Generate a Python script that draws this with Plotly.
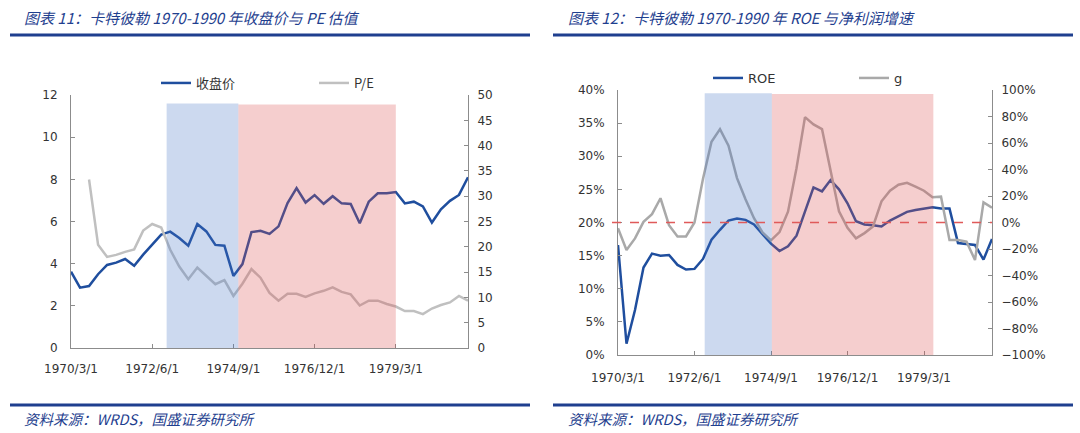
import plotly.graph_objects as go

# ---------------- data ----------------
quarters = [f"{1970 + i // 4}/{[3, 6, 9, 12][i % 4]}/1" for i in range(45)]
tick_labels = ["1970/3/1", "1972/6/1", "1974/9/1", "1976/12/1", "1979/3/1"]

close_price = [3.62, 2.86, 2.94, 3.5, 3.94, 4.05, 4.22, 3.9, 4.43, 4.93, 5.38, 5.52, 5.22, 4.85, 5.88,
               5.53, 4.89, 4.85, 3.42, 3.98, 5.5, 5.56, 5.41, 5.77, 6.87, 7.58, 6.9, 7.25, 6.84, 7.2,
               6.86, 6.83, 5.92, 6.94, 7.34, 7.34, 7.4, 6.86, 6.94, 6.72, 5.95, 6.58, 6.98, 7.26, 8.1]
pe_ratio = [None, None, 33.3, 20.4, 18.0, 18.4, 19.0, 19.5, 23.2, 24.5, 23.8, 19.4, 16.1, 13.6, 15.9,
            14.3, 12.6, 13.4, 10.3, 12.7, 15.6, 13.9, 10.9, 9.35, 10.7, 10.7, 10.1, 10.8, 11.3, 12.0,
            11.1, 10.6, 8.4, 9.35, 9.35, 8.7, 8.2, 7.3, 7.3, 6.7, 7.8, 8.5, 9.0, 10.3, 9.35]

roe = [16.6, 1.7, 6.8, 13.2, 15.3, 15.0, 15.1, 13.6, 12.9, 13.0, 14.5, 17.4, 18.9, 20.3, 20.6,
       20.4, 19.7, 18.3, 16.8, 15.7, 16.4, 18.0, 21.6, 25.3, 24.7, 26.4, 25.0, 22.9, 20.2, 19.7,
       19.6, 19.4, 20.3, 21.0, 21.6, 21.9, 22.1, 22.3, 22.1, 22.1, 16.9, 16.8, 16.6, 14.4, 17.5]
g_growth = [-4.4, -20.8, -12.0, 0.5, 6.3, 18.3, -2.0, -10.5, -10.5, 0.0, 33.0, 61.0, 70.5, 58.0, 33.5,
            17.5, 3.2, -7.5, -13.5, -7.2, 8.2, 41.0, 79.5, 74.0, 70.5, 38.5, 8.5, -4.0, -12.0, -8.0,
            -3.0, 16.0, 24.0, 28.5, 30.0, 27.0, 24.0, 19.0, 19.5, -13.2, -13.2, -14.5, -28.3, 15.2, 11.2]

# shaded periods (category index positions)
left_blue = (10.6, 18.55)
left_pink = (18.55, 36.0)
right_blue = (10.2, 18.1)
right_pink = (18.1, 37.1)

BLUE = "#1F4E9E"
GREY = "#C0C0C0"
TITLE_BLUE = "#1F3F8F"
FONT = "DejaVu Sans, Noto Sans CJK SC, sans-serif"
CJK = "Noto Sans CJK SC, DejaVu Sans, sans-serif"

W, H = 1080, 433


def px_x(p):
    return p / W


def px_y(p):
    return 1 - p / H


fig = go.Figure()

fig.add_trace(go.Scatter(x=quarters, y=close_price, name="收盘价", mode="lines",
                         line=dict(color=BLUE, width=2.5), xaxis="x", yaxis="y", legend="legend"))
fig.add_trace(go.Scatter(x=quarters, y=pe_ratio, name="P/E", mode="lines",
                         line=dict(color=GREY, width=2.5), xaxis="x", yaxis="y2", legend="legend"))
fig.add_trace(go.Scatter(x=quarters, y=roe, name="ROE", mode="lines",
                         line=dict(color=BLUE, width=2.5), xaxis="x2", yaxis="y3", legend="legend2"))
fig.add_trace(go.Scatter(x=quarters, y=g_growth, name="g", mode="lines",
                         line=dict(color="#A9A9A9", width=2.5), xaxis="x2", yaxis="y4", legend="legend2"))

axis_common = dict(showgrid=False, zeroline=False, showline=True, linecolor="#8C8C8C", linewidth=1,
                   ticks="inside", ticklen=4, tickcolor="#8C8C8C",
                   tickfont=dict(family=FONT, size=12, color="#333333"))

xcommon = dict(axis_common, type="category", tickmode="array", tickvals=tick_labels,
               ticktext=tick_labels, range=[0, 44], tickangle=0)

fig.update_layout(
    width=W, height=H,
    margin=dict(l=0, r=0, t=0, b=0, autoexpand=False),
    paper_bgcolor="white", plot_bgcolor="rgba(0,0,0,0)",
    xaxis=dict(xcommon, domain=[px_x(71), px_x(468)], anchor="y", ticklabelstandoff=10),
    yaxis=dict(axis_common, domain=[px_y(348), px_y(95)], range=[0, 12], dtick=2, anchor="x",
               ticklabelstandoff=10),
    yaxis2=dict(axis_common, overlaying="y", side="right", range=[0, 50], dtick=5, anchor="x",
                ticklabelstandoff=6),
    xaxis2=dict(xcommon, domain=[px_x(618), px_x(992)], anchor="y3", ticklabelstandoff=12),
    yaxis3=dict(axis_common, domain=[px_y(355), px_y(90)], range=[0, 40], dtick=5,
                ticksuffix="%", anchor="x2", ticklabelstandoff=10),
    yaxis4=dict(axis_common, overlaying="y3", side="right", range=[-100, 100], dtick=20,
                ticksuffix="%", anchor="x2", ticklabelstandoff=6),
    legend=dict(orientation="h", x=px_x(156), y=px_y(83), xanchor="left", yanchor="middle",
                entrywidth=113, entrywidthmode="pixels", bgcolor="rgba(0,0,0,0)",
                font=dict(family=CJK, size=13, color="#333333")),
    legend2=dict(orientation="h", x=px_x(708), y=px_y(78), xanchor="left", yanchor="middle",
                 entrywidth=101, entrywidthmode="pixels", bgcolor="rgba(0,0,0,0)",
                 font=dict(family=FONT, size=13, color="#333333")),
)

shapes = []
# shaded periods drawn above the lines (semi-transparent)
shapes.append(dict(type="rect", xref="x", yref="y", x0=left_blue[0], x1=left_blue[1], y0=0, y1=11.6,
                   fillcolor="rgba(68,114,196,0.27)", line=dict(width=0), layer="above"))
shapes.append(dict(type="rect", xref="x", yref="y", x0=left_pink[0], x1=left_pink[1], y0=0, y1=11.55,
                   fillcolor="rgba(220,80,80,0.28)", line=dict(width=0), layer="above"))
shapes.append(dict(type="rect", xref="x2", yref="y3", x0=right_blue[0], x1=right_blue[1], y0=0, y1=39.5,
                   fillcolor="rgba(68,114,196,0.27)", line=dict(width=0), layer="above"))
shapes.append(dict(type="rect", xref="x2", yref="y3", x0=right_pink[0], x1=right_pink[1], y0=0, y1=39.4,
                   fillcolor="rgba(220,80,80,0.28)", line=dict(width=0), layer="above"))
# red dashed zero line on the growth axis
shapes.append(dict(type="line", xref="paper", yref="y4", x0=px_x(612), x1=px_x(992), y0=0, y1=0,
                   line=dict(color="#E05A5A", width=1.5, dash="dash"), layer="above"))
# title / footer rules
for (a, b) in [(10, 530), (553, 1073)]:
    shapes.append(dict(type="line", xref="paper", yref="paper", x0=px_x(a), x1=px_x(b),
                       y0=px_y(35), y1=px_y(35), line=dict(color=TITLE_BLUE, width=3)))
    shapes.append(dict(type="line", xref="paper", yref="paper", x0=px_x(a), x1=px_x(b),
                       y0=px_y(405), y1=px_y(405), line=dict(color=TITLE_BLUE, width=3)))
fig.update_layout(shapes=shapes)

ann = []
ann.append(dict(text="<i>图表 11：卡特彼勒 1970-1990 年收盘价与 PE 估值</i>", x=px_x(22), y=px_y(18),
                xref="paper", yref="paper", xanchor="left", yanchor="middle", showarrow=False,
                font=dict(family=CJK, size=15, color=TITLE_BLUE)))
ann.append(dict(text="<i>图表 12：卡特彼勒 1970-1990 年 ROE 与净利润增速</i>", x=px_x(566), y=px_y(18),
                xref="paper", yref="paper", xanchor="left", yanchor="middle", showarrow=False,
                font=dict(family=CJK, size=15, color=TITLE_BLUE)))
for xx in (22, 566):
    ann.append(dict(text="<i>资料来源：WRDS，国盛证券研究所</i>", x=px_x(xx), y=px_y(418),
                    xref="paper", yref="paper", xanchor="left", yanchor="middle", showarrow=False,
                    font=dict(family=CJK, size=14.5, color=TITLE_BLUE)))
fig.update_layout(annotations=ann)

fig.write_html("out.html", config={"displayModeBar": False},
               post_script="document.body.style.margin='0px';")
